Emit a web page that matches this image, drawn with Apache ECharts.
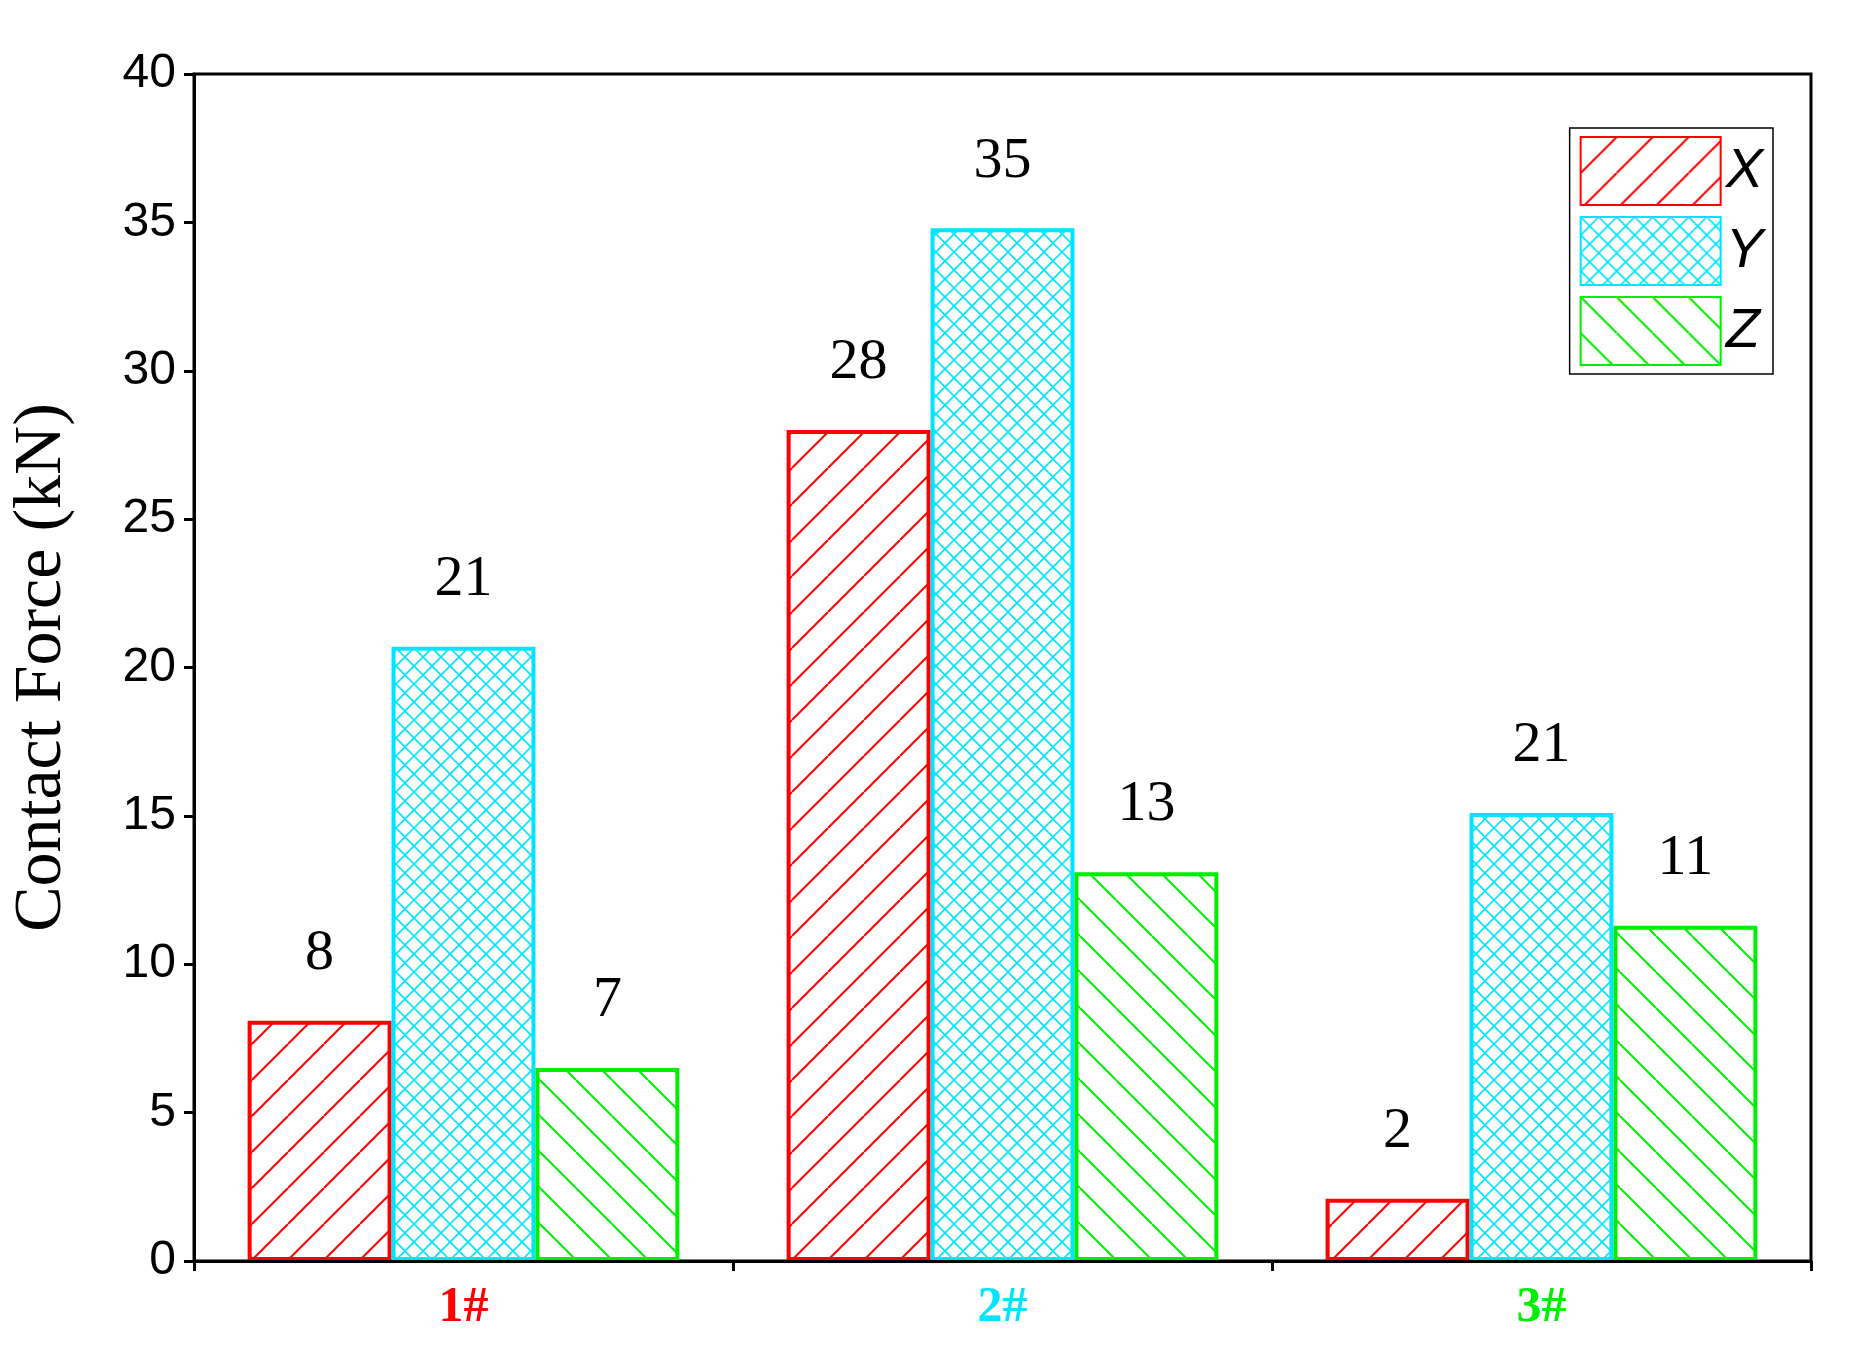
<!DOCTYPE html>
<html><head><meta charset="utf-8">
<script src="https://cdn.jsdelivr.net/npm/echarts@6/dist/echarts.min.js"></script>
<style>html,body{margin:0;padding:0;background:#fff}#c{width:1853px;height:1356px}</style>
</head><body><div id="c"></div>
<script>
const categories = ['1#', '2#', '3#'];
const categoryColors = ['#ff0000', '#00e5ff', '#00ee00'];
const xValues = [8.1, 28.0, 2.1];
const yValues = [20.7, 34.8, 15.1];
const zValues = [6.5, 13.1, 11.3];
const xLabels = ['8', '28', '2'];
const yLabels = ['21', '35', '21'];
const zLabels = ['7', '13', '11'];
const yTicks = [0, 5, 10, 15, 20, 25, 30, 35, 40];

function pattern(color, kind) {
  const s = 36, c = document.createElement('canvas');
  c.width = s; c.height = s;
  const g = c.getContext('2d');
  g.fillStyle = '#fff'; g.fillRect(0, 0, s, s);
  g.strokeStyle = color; g.lineWidth = 2;
  const line = (a, b, cc, d) => { g.beginPath(); g.moveTo(a, b); g.lineTo(cc, d); g.stroke(); };
  const fwd = () => { for (let k = -1; k <= 1; k++) line(k * s, s, k * s + s, 0); };
  const back = () => { for (let k = -1; k <= 1; k++) line(k * s, 0, k * s + s, s); };
  if (kind === 'f') fwd();
  if (kind === 'b') back();
  if (kind === 'x') { g.lineWidth = 1.6; const h = s / 2;
    for (let k = -2; k <= 2; k++) { line(k * h, s, k * h + s, 0); line(k * h, 0, k * h + s, s); } }
  return { image: c, repeat: 'repeat' };
}

function series(name, data, labels, color, kind) {
  return {
    name, type: 'bar', data, barWidth: '26.7%', barGap: '0%', z: 1,
    itemStyle: { color: pattern(color, kind), borderColor: color, borderWidth: 4 },
    label: { show: true, position: 'top', distance: 38, color: '#000',
      fontFamily: 'Liberation Serif', fontSize: 58,
      formatter: p => labels[p.dataIndex] }
  };
}

const chart = echarts.init(document.getElementById('c'));
chart.setOption({
  animation: false,
  grid: { left: 194, right: 42, top: 74, bottom: 95, show: true, borderColor: '#000', borderWidth: 3, backgroundColor: 'transparent' },
  legend: {
    right: 80, top: 128, orient: 'vertical', icon: 'rect', itemWidth: 140, itemHeight: 68, itemGap: 10,
    padding: [8, 10, 8, 10], borderColor: '#000', borderWidth: 1.5,
    textStyle: { fontFamily: 'Liberation Sans', fontStyle: 'italic', fontSize: 56, color: '#000' },
    data: ['X', 'Y', 'Z']
  },
  xAxis: [{
    type: 'category', data: categories, z: 10,
    axisLine: { lineStyle: { color: '#000', width: 3 } },
    axisTick: { alignWithLabel: true, inside: true, length: 14, lineStyle: { color: '#000', width: 3 } },
    axisLabel: { margin: 22, fontFamily: 'Liberation Serif', fontWeight: 'bold', fontSize: 50,
      color: (v, i) => categoryColors[i] }
  }, {
    type: 'category', data: categories, position: 'bottom',
    axisLine: { show: false },
    axisTick: { show: true, length: 10, lineStyle: { color: '#000', width: 3 } },
    axisLabel: { show: false }
  }],
  yAxis: {
    type: 'value', min: yTicks[0], max: yTicks[yTicks.length - 1], interval: 5,
    name: 'Contact Force (kN)', nameLocation: 'middle', nameGap: 118,
    nameTextStyle: { fontFamily: 'Liberation Serif', fontSize: 68, color: '#000' },
    axisLine: { show: true, lineStyle: { color: '#000', width: 3 } },
    axisTick: { show: true, length: 10, lineStyle: { color: '#000', width: 3 } },
    splitLine: { show: false },
    axisLabel: { margin: 18, fontFamily: 'Liberation Sans', fontSize: 48, color: '#000' }
  },
  series: [
    series('X', xValues, xLabels, '#ff0000', 'f'),
    series('Y', yValues, yLabels, '#00e5ff', 'x'),
    series('Z', zValues, zLabels, '#00ee00', 'b')
  ]
});
</script></body></html>
